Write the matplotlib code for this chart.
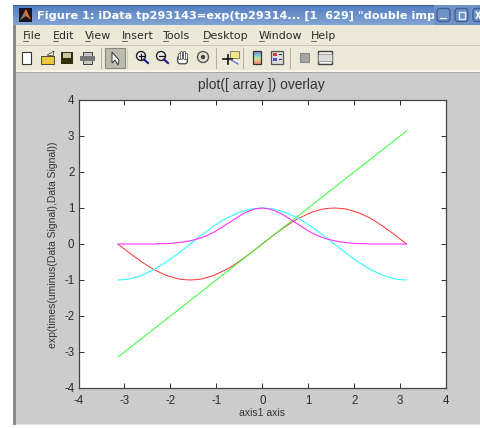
import matplotlib
matplotlib.use("Agg")
import matplotlib.pyplot as plt
from matplotlib.patches import Rectangle, FancyBboxPatch, Circle, Polygon
import numpy as np

# ---- data ----
x_values = [-3.14, -3.01, -2.88, -2.75, -2.62, -2.49, -2.36, -2.23, -2.09, -1.96, -1.83, -1.70, -1.57,
            -1.44, -1.31, -1.18, -1.05, -0.92, -0.79, -0.65, -0.52, -0.39, -0.26, -0.13, 0.0,
            0.13, 0.26, 0.39, 0.52, 0.65, 0.79, 0.92, 1.05, 1.18, 1.31, 1.44,
            1.57, 1.70, 1.83, 1.96, 2.09, 2.23, 2.36, 2.49, 2.62, 2.75, 2.88, 3.01, 3.14]
red_values = [0.0, -0.13, -0.26, -0.38, -0.5, -0.61, -0.71, -0.79, -0.87, -0.92, -0.97, -0.99, -1.0,
              -0.99, -0.97, -0.92, -0.87, -0.79, -0.71, -0.61, -0.5, -0.38, -0.26, -0.13, 0.0,
              0.13, 0.26, 0.38, 0.5, 0.61, 0.71, 0.79, 0.87, 0.92, 0.97, 0.99,
              1.0, 0.99, 0.97, 0.92, 0.87, 0.79, 0.71, 0.61, 0.5, 0.38, 0.26, 0.13, 0.0]
green_values = [-3.14, -3.01, -2.88, -2.75, -2.62, -2.49, -2.36, -2.23, -2.09, -1.96, -1.83, -1.70, -1.57,
                -1.44, -1.31, -1.18, -1.05, -0.92, -0.79, -0.65, -0.52, -0.39, -0.26, -0.13, 0.0,
                0.13, 0.26, 0.39, 0.52, 0.65, 0.79, 0.92, 1.05, 1.18, 1.31, 1.44,
                1.57, 1.70, 1.83, 1.96, 2.09, 2.23, 2.36, 2.49, 2.62, 2.75, 2.88, 3.01, 3.14]
cyan_values = [-1.0, -0.99, -0.97, -0.92, -0.87, -0.79, -0.71, -0.61, -0.5, -0.38, -0.26, -0.13, 0.0,
               0.13, 0.26, 0.38, 0.5, 0.61, 0.71, 0.79, 0.87, 0.92, 0.97, 0.99, 1.0,
               0.99, 0.97, 0.92, 0.87, 0.79, 0.71, 0.61, 0.5, 0.38, 0.26, 0.13,
               0.0, -0.13, -0.26, -0.38, -0.5, -0.61, -0.71, -0.79, -0.87, -0.92, -0.97, -0.99, -1.0]
magenta_values = [0.0, 0.0, 0.0, 0.0, 0.0, 0.0, 0.0, 0.01, 0.01, 0.02, 0.04, 0.06, 0.09,
                  0.13, 0.18, 0.25, 0.33, 0.43, 0.54, 0.65, 0.76, 0.86, 0.93, 0.98, 1.0,
                  0.98, 0.93, 0.86, 0.76, 0.65, 0.54, 0.43, 0.33, 0.25, 0.18, 0.13,
                  0.09, 0.06, 0.04, 0.02, 0.01, 0.01, 0.0, 0.0, 0.0, 0.0, 0.0, 0.0, 0.0]
x_ticks = [-4, -3, -2, -1, 0, 1, 2, 3, 4]
y_ticks = [-4, -3, -2, -1, 0, 1, 2, 3, 4]
menu_items = ["File", "Edit", "View", "Insert", "Tools", "Desktop", "Window", "Help"]
menu_x = [23, 53, 85, 122, 163, 203, 259, 311]
window_title = 'Figure 1: iData tp293143=exp(tp29314... [1  629] "double imp'
chart_title = "plot([ array ]) overlay"
x_label = "axis1 axis"
y_label = "exp(times(uminus(Data Signal),Data Signal))"

W, H = 480, 428
plt.rcParams["font.family"] = ["Liberation Sans", "DejaVu Sans"]
fig = plt.figure(figsize=(W / 100, H / 100), dpi=100, facecolor="white")

# window chrome, in pixel coordinates
bg = fig.add_axes([0, 0, 1, 1], zorder=0)
bg.set_xlim(0, W)
bg.set_ylim(H, 0)
bg.axis("off")


def rect(x, y, w, h, c, ec="none", lw=0, z=1):
    bg.add_patch(Rectangle((x, y), w, h, facecolor=c, edgecolor=ec, linewidth=lw, zorder=z))


rect(13, 5, 467, 420, "#cccccc")          # figure grey
rect(13, 5, 2.5, 420, "#8a8a8a")          # window left border
rect(15.5, 423.5, 465, 1.5, "#e4e4e4")
rect(15.5, 25, 465, 20, "#ece9d8")        # menu bar
rect(15.5, 45, 465, 1, "#c9c6b6")
rect(15.5, 46, 465, 24, "#ece9d8")        # tool bar
rect(15.5, 70, 465, 1.5, "#f7f5ea")
rect(15.5, 71.5, 465, 1, "#a8a8a0")

# title bar gradient
grad = np.linspace(0, 1, 20)[:, None, None] * np.array([[[0.18, 0.14, 0.07]]]) + np.array([[[0.33, 0.50, 0.76]]])
bg.imshow(grad, extent=(13, W, 25, 5), aspect="auto", zorder=1, interpolation="bilinear")
bg.set_xlim(0, W)
bg.set_ylim(H, 0)
rect(13, 5, 467, 1, "#3d5a8c", z=2)

# title bar icon
rect(19, 8, 13, 14, "#15151f", z=3)
bg.add_patch(Polygon([[20, 20], [26, 9], [31, 20], [26, 16]], facecolor="#e8721c", edgecolor="none", zorder=4))
bg.add_patch(Polygon([[20, 20], [26, 12], [25, 16]], facecolor="#3a86c8", edgecolor="none", zorder=4))
bg.text(37, 15.5, window_title, color="white", fontsize=8.15, fontweight="bold", family="DejaVu Sans",
        va="center", ha="left", zorder=5)
rect(434, 5, 46, 20, "#6f93c6", z=6)
for bx in (437, 455, 473):
    bg.add_patch(FancyBboxPatch((bx, 8.5), 13, 13, boxstyle="round,pad=0,rounding_size=3",
                                facecolor="#6f93c6", edgecolor="#3d5f98", linewidth=1, zorder=7))
rect(440, 17.5, 7, 1.5, "white", z=8)
rect(458.5, 12, 6.5, 6.5, "none", ec="#e4ecf8", lw=1, z=8)
bg.plot([476.5, 480], [12, 18], color="white", lw=1.1, zorder=8)
bg.plot([476.5, 480], [18, 12], color="white", lw=1.1, zorder=8)

# menu bar
for label, mx in zip(menu_items, menu_x):
    bg.text(mx, 35.5, label, fontsize=7.9, family="DejaVu Sans", color="#2a2a2a", va="center", ha="left", zorder=3)
    bg.plot([mx, mx + 5], [41, 41], color="#333333", lw=0.5, zorder=3)

# tool bar
rect(22, 52, 9, 12, "white", ec="#333333", lw=0.8, z=3)
rect(41, 56, 13, 8, "#e8c93c", ec="#333333", lw=0.6, z=3)
bg.add_patch(Polygon([[47, 55], [54, 51], [53, 56]], facecolor="#e8e8c8", edgecolor="#333333", linewidth=0.5, zorder=3))
rect(61, 52, 12, 12, "#2f2f10", z=3)
rect(63, 53, 8, 5, "#c8c8a0", z=4)
rect(83, 52, 9, 12, "#c8c8c8", ec="#444444", lw=0.7, z=3)
rect(80, 56, 15, 5, "#777777", z=3)
rect(100.5, 48, 1, 21, "#b5b2a4", z=3)
rect(104.5, 48, 20, 20, "#bdbbad", ec="#8b897e", lw=0.8, z=3)
bg.add_patch(Polygon([[112, 52], [112, 63], [115, 60], [118, 65], [119, 60], [118, 59]],
                     facecolor="white", edgecolor="#333333", linewidth=0.7, zorder=4))
rect(127, 48, 1, 21, "#d0cebf", z=3)
for cx, mark in ((141, "+"), (161, "-")):
    bg.add_patch(Circle((cx, 56), 4.5, facecolor="#eeeeee", edgecolor="#222222", linewidth=1, zorder=3))
    bg.plot([cx + 3, cx + 7], [59.5, 63], color="#1a1a8c", lw=1.5, zorder=3)
    bg.plot([cx - 2.5, cx + 2.5], [56, 56], color="#111111", lw=0.9, zorder=4)
    if mark == "+":
        bg.plot([cx, cx], [53.5, 58.5], color="#111111", lw=0.9, zorder=4)
# hand icon
bg.add_patch(FancyBboxPatch((178, 56), 9, 7.5, boxstyle="round,pad=0.3,rounding_size=2.5",
                            facecolor="white", edgecolor="#333333", linewidth=0.8, zorder=3))
for fx, top in ((178.5, 54), (181, 52), (183.5, 52), (186, 53.5)):
    bg.plot([fx, fx], [top, 58], color="#333333", lw=2.0, solid_capstyle="round", zorder=3)
    bg.plot([fx, fx], [top, 58], color="white", lw=1.0, solid_capstyle="round", zorder=4)
bg.add_patch(Circle((203, 57), 5.5, facecolor="#e6e3d4", edgecolor="#555555", linewidth=1, zorder=3))
bg.add_patch(Circle((203, 57), 2.2, facecolor="#444444", edgecolor="none", zorder=4))
rect(215.5, 48, 1, 21, "#b5b2a4", z=3)
rect(230, 51, 9, 7, "#f0e68c", ec="#777755", lw=0.6, z=3)
bg.plot([223, 232], [59, 59], color="#111111", lw=1.2, zorder=3)
bg.plot([227.5, 227.5], [55, 64], color="#111111", lw=1.2, zorder=3)
bg.plot([231, 238], [60, 64], color="#6a6ad0", lw=0.9, zorder=3)
rect(242.5, 48, 1, 21, "#b5b2a4", z=3)
bg.imshow(np.array([[[0.55, 0.55, 0.85]], [[0.5, 0.85, 0.8]], [[0.85, 0.9, 0.5]], [[0.95, 0.6, 0.5]]]),
          extent=(253, 261, 64, 51), aspect="auto", zorder=3, interpolation="bilinear")
bg.set_xlim(0, W)
bg.set_ylim(H, 0)
rect(253, 51, 8, 13, "none", ec="#333333", lw=0.9, z=4)
rect(271, 51, 12, 13, "#dddddd", ec="#555555", lw=0.9, z=3)
rect(273, 53, 4, 3, "#d84040", z=4)
rect(273, 58, 4, 3, "#5050d8", z=4)
rect(279, 54, 3, 1, "#333333", z=4)
rect(279, 59, 3, 1, "#333333", z=4)
rect(290, 48, 1, 21, "#b5b2a4", z=3)
rect(300, 53, 9, 9, "#a5a5a5", ec="#888888", lw=0.8, z=3)
rect(318, 51, 14, 13, "#f4f4f4", ec="#444444", lw=1, z=3)
rect(318, 54, 14, 7, "#dcdcdc", ec="#888888", lw=0.5, z=4)

# chart axes: x 78.5..446 px, y 100..388 px
ax = fig.add_axes([78.5 / W, 1 - 388 / H, (446 - 78.5) / W, 288 / H], zorder=1, facecolor="white")
ax.plot(x_values, red_values, color="#ff3030", lw=0.7)
ax.plot(x_values, green_values, color="#30ff30", lw=0.7)
ax.plot(x_values, cyan_values, color="#30ffff", lw=0.8)
ax.plot(x_values, magenta_values, color="#ff30ff", lw=0.8)
ax.set_xlim(-4, 4)
ax.set_ylim(-4, 4)
ax.set_xticks(x_ticks)
ax.set_yticks(y_ticks)
ax.set_xticklabels([str(t) for t in x_ticks])
ax.set_yticklabels([str(t) for t in y_ticks])
ax.tick_params(direction="in", length=3.5, width=0.7, top=True, right=True, labelsize=8.3,
               colors="#2c2c2c", pad=3)
ax.tick_params(axis="x", pad=5)
for s in ax.spines.values():
    s.set_linewidth(0.9)
    s.set_color("#444444")

bg.text(261, 84.5, chart_title, fontsize=9.9, color="#333333", ha="center", va="center", zorder=3)
bg.text(262, 413, x_label, fontsize=7.5, color="#333333", ha="center", va="center", zorder=3)
bg.text(53.5, 245, y_label, fontsize=7.5, color="#333333", ha="center", va="center", rotation=90, zorder=3)

fig.savefig("out.png", dpi=100)
